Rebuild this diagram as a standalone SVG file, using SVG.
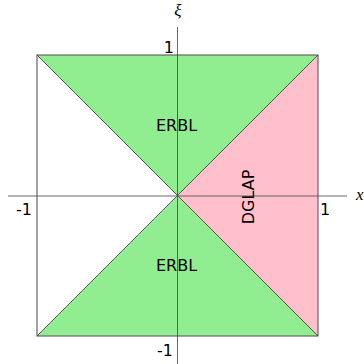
<svg xmlns="http://www.w3.org/2000/svg" width="364" height="364" viewBox="0 0 364 364">
<style>
.lbl{font-family:"DejaVu Sans",sans-serif;font-size:16px;fill:#000}
.var{font-family:"Liberation Serif",serif;font-style:italic;font-size:17px;fill:#000}
.edge{stroke:#333;stroke-width:0.8;fill:none}
</style>
<rect width="364" height="364" fill="#fff"/>
<g id="erbl-top"><polygon points="37,55 318,55 177.5,196" fill="#90ee90"/><text class="lbl" x="176.5" y="131" text-anchor="middle">ERBL</text></g>
<g id="erbl-bottom"><polygon points="37,336 318,336 177.5,196" fill="#90ee90"/><text class="lbl" x="176.5" y="271" text-anchor="middle">ERBL</text></g>
<g id="dglap"><polygon points="318,55 318,336 177.5,196" fill="#ffc0cb"/><text class="lbl" transform="translate(253.5,197) rotate(-90)" text-anchor="middle">DGLAP</text></g>
<g id="connectors">
<rect x="37" y="55" width="281" height="281" fill="none" stroke="#666" stroke-width="1.2"/>
<line class="edge" x1="37" y1="55" x2="318" y2="336"/>
<line class="edge" x1="318" y1="55" x2="37" y2="336"/>
<line x1="8" y1="196" x2="347" y2="196" stroke="#444" stroke-width="0.8"/>
<line x1="177.5" y1="27" x2="177.5" y2="364" stroke="#444" stroke-width="0.8"/>
</g>
<g id="labels">
<text class="var" x="178" y="16" text-anchor="middle">ξ</text>
<text class="var" x="356" y="200">x</text>
<text class="lbl" x="174" y="53" text-anchor="end">1</text>
<text class="lbl" x="173" y="356" text-anchor="end">-1</text>
<text class="lbl" x="16" y="215">-1</text>
<text class="lbl" x="320" y="215">1</text>
</g>
</svg>
